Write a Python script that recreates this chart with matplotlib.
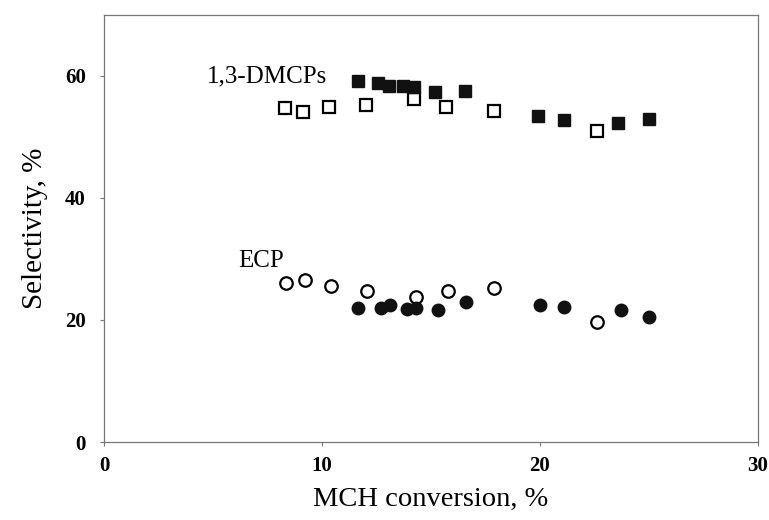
import matplotlib
matplotlib.use("Agg")
import matplotlib.pyplot as plt

# 1,3-DMCPs selectivity
dmcp_open_x = [8.3, 9.13, 10.3, 12.0, 14.2, 15.7, 17.9, 22.6]
dmcp_open_y = [54.7, 54.1, 54.9, 55.2, 56.2, 54.9, 54.2, 51.0]
dmcp_fill_x = [11.65, 12.57, 13.07, 13.7, 14.2, 15.2, 16.56, 19.9, 21.1, 23.6, 25.0]
dmcp_fill_y = [59.2, 58.8, 58.4, 58.4, 58.2, 57.4, 57.5, 53.4, 52.8, 52.3, 52.9]

# ECP selectivity
ecp_open_x = [8.35, 9.2, 10.4, 12.06, 14.3, 15.8, 17.9, 22.6]
ecp_open_y = [26.0, 26.5, 25.5, 24.7, 23.8, 24.7, 25.3, 19.7]
ecp_fill_x = [11.65, 12.7, 13.1, 13.9, 14.3, 15.3, 16.6, 20.0, 21.1, 23.7, 25.0]
ecp_fill_y = [22.0, 22.0, 22.5, 21.8, 22.0, 21.6, 23.0, 22.4, 22.2, 21.6, 20.5]

x_ticks = [0, 10, 20, 30]
y_ticks = [0, 20, 40, 60]

serif = ["Liberation Serif", "DejaVu Serif"]
plt.rcParams["font.family"] = serif

fig = plt.figure(figsize=(7.69, 5.2), dpi=100)
ax = fig.add_axes([0.1352, 0.15, 0.8505, 0.8212])

ms = 9
ax.plot(dmcp_open_x, dmcp_open_y, ls="none", marker="s", ms=ms, mfc="white", mec="black", mew=1.6)
ax.plot(dmcp_fill_x, dmcp_fill_y, ls="none", marker="s", ms=ms, mfc="#111111", mec="#111111", mew=1.0)
ax.plot(ecp_open_x, ecp_open_y, ls="none", marker="o", ms=ms, mfc="white", mec="black", mew=1.6)
ax.plot(ecp_fill_x, ecp_fill_y, ls="none", marker="o", ms=ms, mfc="#111111", mec="#111111", mew=1.0)

ax.text(4.72, 60.0, "1,3-DMCPs", fontsize=18, va="center", ha="left")
ax.text(6.15, 29.6, "ECP", fontsize=18, va="center", ha="left")

ax.set_xlim(0, 30)
ax.set_ylim(0, 70)
ax.set_xticks(x_ticks)
ax.set_yticks(y_ticks)
ax.set_xticklabels([str(v) for v in x_ticks], fontsize=15, fontweight="bold")
ax.set_yticklabels([str(v) for v in y_ticks], fontsize=15, fontweight="bold")
ax.tick_params(axis="both", direction="out", length=3, width=0.8, color="#777777")
ax.tick_params(axis="x", pad=7)
ax.tick_params(axis="y", pad=10)

for s in ax.spines.values():
    s.set_color("#777777")
    s.set_linewidth(0.9)

ax.set_xlabel("MCH conversion, %", fontsize=20.5, labelpad=8)
ax.set_ylabel("Selectivity, %", fontsize=21, labelpad=12)

fig.savefig("out.png", dpi=100)
